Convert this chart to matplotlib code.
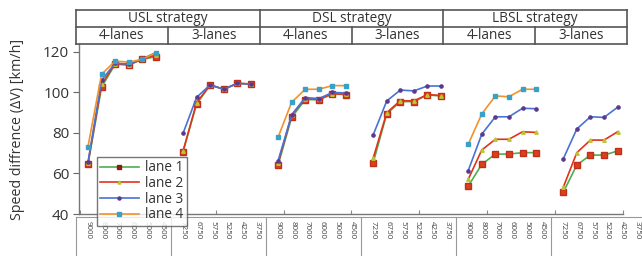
import numpy as np
import matplotlib
matplotlib.use("Agg")
import matplotlib.pyplot as plt
from matplotlib.lines import Line2D

plt.rcParams['font.family'] = ['Open Sans', 'DejaVu Sans']

# categorias
strategies = ['USL strategy', 'DSL strategy', 'LBSL strategy']
lane_groups = ['4-lanes', '3-lanes']
flows_4 = ['9000', '8000', '7000', '6000', '5000', '4500']
flows_3 = ['7250', '6750', '5750', '5250', '4250', '3750']

nan = np.nan
# orden: USL 4, USL 3, DSL 4, DSL 3, LBSL 4, LBSL 3 (6 valores por bloque)
lane1 = [64.5, 102.6, 114.0, 113.5, 116.4, 117.7,
         70.8, 94.3, 103.7, 101.6, 104.5, 104.2,
         64.2, 87.7, 96.5, 96.4, 99.2, 99.0,
         65.3, 89.4, 95.5, 95.5, 98.8, 98.3,
         53.8, 64.5, 69.6, 69.6, 70.3, 70.3,
         50.7, 64.2, 69.1, 69.1, 71.1, nan]
lane2 = [65.0, 104.0, 114.3, 113.8, 116.4, 118.5,
         71.0, 95.0, 103.7, 101.6, 104.5, 104.2,
         65.0, 89.0, 97.0, 96.6, 99.4, 99.2,
         67.5, 90.0, 96.0, 95.8, 99.0, 98.5,
         57.1, 71.6, 76.9, 76.9, 80.6, 80.3,
         53.2, 70.3, 76.5, 76.5, 80.6, nan]
lane3 = [65.5, 106.0, 114.5, 114.0, 116.6, 119.7,
         79.8, 97.6, 103.8, 101.6, 104.5, 104.2,
         66.3, 88.9, 97.5, 97.0, 100.0, 99.8,
         79.0, 95.8, 101.2, 100.8, 103.2, 103.2,
         61.4, 79.4, 88.0, 88.0, 92.2, 92.0,
         67.2, 82.0, 88.0, 87.7, 92.7, nan]
lane4 = [73.2, 109.0, 115.5, 115.0, 116.4, 119.7,
         nan, nan, nan, nan, nan, nan,
         77.9, 95.2, 101.6, 101.6, 103.4, 103.4,
         nan, nan, nan, nan, nan, nan,
         74.4, 89.4, 98.3, 97.9, 101.6, 101.6,
         nan, nan, nan, nan, nan, nan]

W, H = 642, 256
fig = plt.figure(figsize=(W / 100, H / 100), dpi=100)

def fx(px):
    return px / W

def fy(py):
    return 1 - py / H

ax = fig.add_axes([fx(79), fy(214), fx(623) - fx(79), fy(44) - fy(214)])

estilos = [
    dict(series=lane1, label='lane 1', color='#4caf50', marker='s', ms=4,
         mfc='#d8401e', mec='#c03018', lms=3.5, lmfc='#8b1a10'),
    dict(series=lane2, label='lane 2', color='#e2321c', marker='^', ms=2.5,
         mfc='#b8c830', mec='#b8c830', lms=2.2, lmfc='#b8c830'),
    dict(series=lane3, label='lane 3', color='#4a72d4', marker='o', ms=2.3,
         mfc='#5a3a90', mec='#5a3a90', lms=2.2, lmfc='#5a3a90'),
    dict(series=lane4, label='lane 4', color='#f2922c', marker='s', ms=2.3,
         mfc='#3aa0c8', mec='#3aa0c8', lms=2.2, lmfc='#3aa0c8'),
]

for e in estilos:
    vals = np.array(e['series'], dtype=float)
    for b in range(6):
        x = b * 7 + np.arange(6)
        ax.plot(x, vals[b * 6:(b + 1) * 6], color=e['color'], lw=1.2,
                marker=e['marker'], ms=e['ms'], mfc=e['mfc'], mec=e['mec'])

ax.set_xlim(-0.66, 39.22)
ax.set_ylim(40, 123.95)
ax.set_yticks([40, 60, 80, 100, 120])
ax.set_xticks(np.arange(-0.6, 39.5, 5))
ax.set_xticklabels([])
ax.tick_params(axis='x', direction='in', length=3, color='#888888')
ax.tick_params(axis='y', direction='out', length=4, color='#666666',
               labelsize=11, labelcolor='#333333', pad=3)
for s in ['top', 'right']:
    ax.spines[s].set_visible(False)
for s in ['left', 'bottom']:
    ax.spines[s].set_color('#777777')
    ax.spines[s].set_linewidth(1.0)

fig.text(fx(18), fy(129), 'Speed diffrence (\u0394V) [km/h]', rotation=90,
         ha='center', va='center', fontsize=10.3, color='#333333')

# tabla de arriba
c = '#555555'
L, R = 76, 627
top, mid, bot = 10, 27, 44
for yy in [top, mid, bot]:
    fig.add_artist(Line2D([fx(L), fx(R)], [fy(yy), fy(yy)], color=c, lw=1.2))
cols = np.linspace(L, R, 7)
for i, xx in enumerate(cols):
    y0 = top if i % 2 == 0 else mid
    fig.add_artist(Line2D([fx(xx), fx(xx)], [fy(y0), fy(bot)], color=c, lw=1.2))
for i, s in enumerate(strategies):
    fig.text(fx((cols[2 * i] + cols[2 * i + 2]) / 2), fy((top + mid) / 2), s,
             ha='center', va='center', fontsize=9.8, color='#333333')
    for j, g in enumerate(lane_groups):
        fig.text(fx((cols[2 * i + j] + cols[2 * i + j + 1]) / 2), fy((mid + bot) / 2),
                 g, ha='center', va='center', fontsize=9.8, color='#333333')

# tabla de abajo con los flujos
bw = 95
bl = 76
fig.add_artist(Line2D([fx(bl), fx(W)], [fy(217), fy(217)], color='#999999', lw=0.8))
for k in range(7):
    xx = bl + k * bw
    fig.add_artist(Line2D([fx(xx), fx(xx)], [fy(217), fy(256)], color='#999999', lw=0.8))
for k in range(6):
    labels = flows_4 if k % 2 == 0 else flows_3
    for i, t in enumerate(labels):
        xx = bl + k * bw + 12 + i * 14.8
        fig.text(fx(xx), fy(221), t, rotation=270, ha='center', va='top',
                 fontsize=5.8, color='#444444')

leg = fig.legend(handles=[Line2D([], [], color=e['color'], lw=1.2, marker=e['marker'],
                                 ms=e['lms'], mfc=e['lmfc'], mec=e['lmfc'])
                          for e in estilos],
                 labels=[e['label'] for e in estilos],
                 loc='upper left', bbox_to_anchor=(fx(97), fy(157)),
                 fontsize=9.8, frameon=True, fancybox=False, handlelength=2.8,
                 handletextpad=0.5, borderpad=0.25, labelspacing=0.05,
                 borderaxespad=0)
leg.get_frame().set_edgecolor('#555555')
leg.get_frame().set_linewidth(1.0)
for t in leg.get_texts():
    t.set_color('#333333')

fig.savefig('out.png', dpi=100)
